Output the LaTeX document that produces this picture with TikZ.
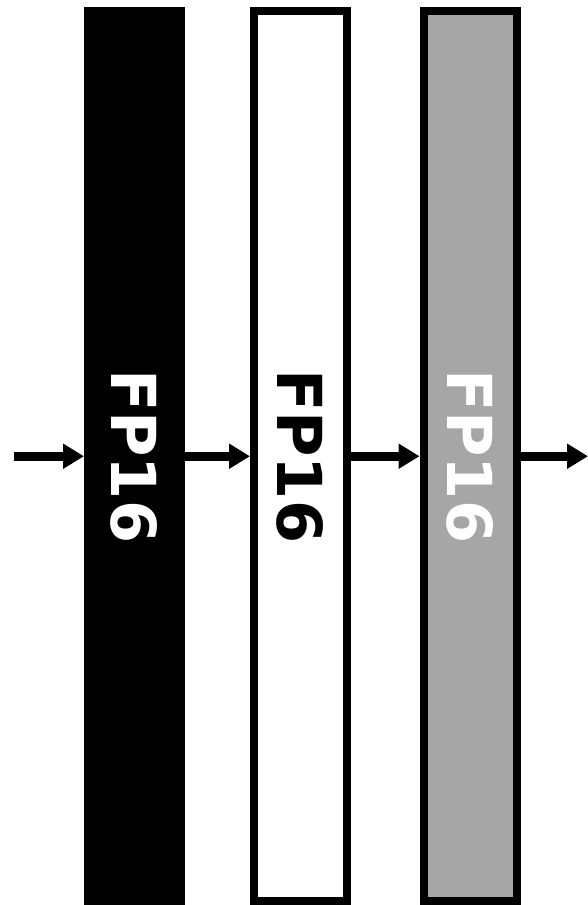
\documentclass[tikz,border=0pt]{standalone}
\usepackage{fontspec}
\setmainfont{DejaVu Sans}
\usetikzlibrary{arrows.meta}

\definecolor{midgray}{RGB}{166,166,166}

\begin{document}
\begin{tikzpicture}[x=1pt, y=1pt,
	bar/.style={draw=black, line width=8pt, rotate=-90, minimum width=889.5pt, minimum height=93pt,
		inner sep=0pt, font=\bfseries\fontsize{62}{62}\selectfont},
	flow/.style={line width=9pt, -{Triangle[length=21pt, width=24pt]}}]
	\useasboundingbox (0,0) rectangle (588,905);

	% three stages, left to right
	\node (first)  at (134.5,448.75) [bar, fill=black, text=white] {FP16};
	\node (second) at (300.5,448.75) [bar, fill=white, text=black] {FP16};
	\node (third)  at (470,448.75)   [bar, fill=midgray, text=white] {FP16};

	\coordinate (in)  at (14,448.75);
	\coordinate (out) at (588,448.75);

	\begin{scope}
	\draw[flow] (in) -- (first.south);
	\draw[flow] (first.north) -- (second.south);
	\draw[flow] (second.north) -- (third.south);
	\draw[flow] (third.north) -- (out);
	\end{scope}
\end{tikzpicture}
\end{document}
